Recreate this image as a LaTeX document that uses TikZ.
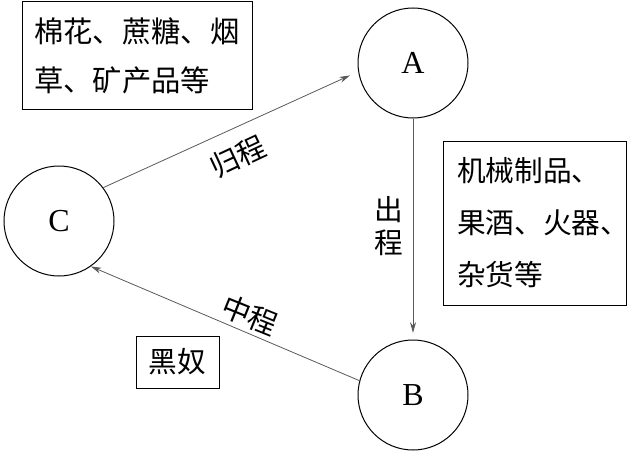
\documentclass[tikz,border=0pt]{standalone}
\usepackage{fontspec}
\setmainfont{Liberation Serif}
\newfontfamily\cjk{Noto Sans CJK SC}
\usetikzlibrary{arrows.meta}

\tikzset{every picture/.style={line width=0.75pt}}
\tikzset{
  port/.style={draw, circle, minimum size=82.5pt, inner sep=0pt, font=\fontsize{24}{28}\selectfont},
  goods/.style={draw, align=left},
  route/.style={draw=black!65, line width=0.6pt, -{Stealth[length=8pt,width=4.5pt]}},
  routelabel/.style={inner sep=0.75pt, font=\cjk\fontsize{21.5}{25}\selectfont}
}

\begin{document}
\begin{tikzpicture}[x=0.75pt,y=0.75pt,yscale=-1,xscale=1]
	\useasboundingbox (0,0) rectangle (631,453);
	
	%Shape: Circle
	\node [port] (A) at (413,63) {A};
	%Shape: Circle
	\node [port] (B) at (413,395) {B};
	%Shape: Circle
	\node [port] (C) at (59,221) {C};
	
	%Shape: Rectangle
	\node [goods, font=\cjk\fontsize{22}{36.75}\selectfont, text width=154.5pt, inner xsep=9pt, minimum height=80.25pt] (backgoods) at (137,55.5) {棉花、蔗糖、烟\\草、矿产品等};
	%Shape: Rectangle
	\node [goods, font=\cjk\fontsize{21.5}{39}\selectfont, text width=116.25pt, inner xsep=10.5pt, minimum height=123pt] (outgoods) at (534.5,223) {机械制品、\\果酒、火器、\\杂货等};
	%Shape: Rectangle
	\node [goods, font=\cjk\fontsize{21.5}{25}\selectfont, minimum width=62.25pt, minimum height=39pt, inner sep=0pt] (slaves) at (177.5,362) {黑奴};
	
	%Straight Lines
	\draw [route, shorten >=6.75pt] (C.37) -- (A.189) ;
	%Straight Lines
	\draw [route, shorten >=5pt] (A) -- (B) ;
	%Straight Lines
	\draw [route] (B.165) -- (C.-55) ;
	
	% Text Node
	\node [routelabel, rotate=25] (backleg) at (238,157) {归程};
	% Text Node
	\node [routelabel, align=center, font=\cjk\fontsize{21.5}{24.75}\selectfont] (outleg) at (389,226) {出\\程};
	% Text Node
	\node [routelabel, rotate=-22] (midleg) at (250,315) {中程};
	
\end{tikzpicture}
\end{document}
